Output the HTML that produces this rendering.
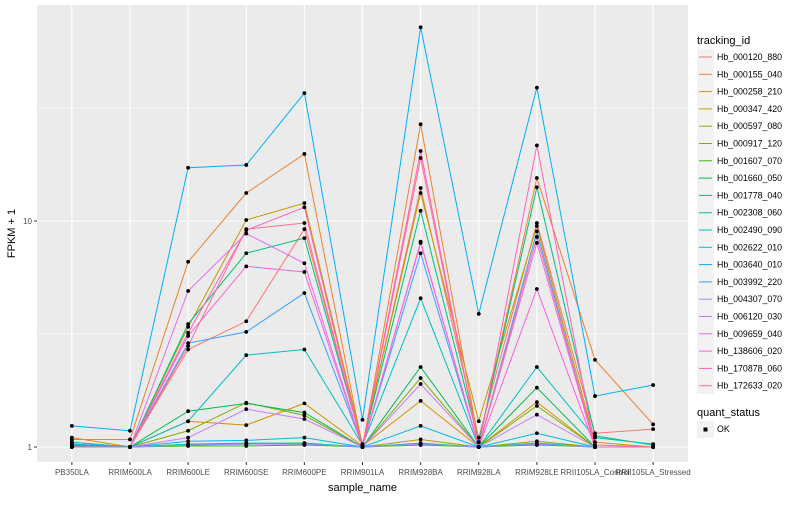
<!DOCTYPE html>
<html><head><meta charset="utf-8"><style>
body{margin:0;background:#fff;font-family:"Liberation Sans",sans-serif}
svg text{font-family:"Liberation Sans",sans-serif}
</style></head><body>
<svg id="c" width="800" height="500" xmlns="http://www.w3.org/2000/svg"></svg>
<script>
const categories=["PB350LA","RRIM600LA","RRIM600LE","RRIM600SE","RRIM600PE","RRIM901LA","RRIM928BA","RRIM928LA","RRIM928LE","RRII105LA_Control","RRII105LA_Stressed"];
const seriesNames=["Hb_000120_880","Hb_000155_040","Hb_000258_210","Hb_000347_420","Hb_000597_080","Hb_000917_120","Hb_001607_070","Hb_001660_050","Hb_001778_040","Hb_002308_060","Hb_002490_090","Hb_002622_010","Hb_003640_010","Hb_003992_220","Hb_004307_070","Hb_006120_030","Hb_009659_040","Hb_138606_020","Hb_170878_060","Hb_172633_020"];
const colors=["#F8766D","#EA8331","#D89000","#C09B00","#A3A500","#7CAE00","#39B600","#00BB4E","#00BF7D","#00C1A3","#00BFC4","#00BAE0","#00B0F6","#35A2FF","#9590FF","#C77CFF","#E76BF3","#FA62DB","#FF62BC","#FF6C91"];
const s000120=[1.02,1.0,2.7,3.6,9.2,1.02,14.0,1.1,9.8,1.15,1.2];
const s000155=[1.08,1.08,6.6,13.3,19.8,1.0,26.8,1.05,15.5,2.43,1.26];
const s000258=[1.1,1.0,1.3,1.25,1.56,1.01,1.6,1.0,1.58,1.0,1.0];
const s000347=[1.05,1.0,3.4,10.1,12.0,1.03,13.3,1.3,9.5,1.05,1.0];
const s000597=[1.02,1.0,1.02,1.03,1.04,1.0,1.08,1.0,1.06,1.0,1.0];
const s000917=[1.01,1.0,1.18,1.57,1.38,1.0,2.02,1.0,1.52,1.0,1.0];
const s001607=[1.0,1.0,1.01,1.01,1.02,1.0,1.02,1.0,1.02,1.0,1.0];
const s001660=[1.02,1.0,1.44,1.56,1.42,1.0,2.26,1.0,1.83,1.0,1.0];
const s001778=[1.03,1.0,3.5,7.2,8.4,1.02,11.1,1.05,14.1,1.12,1.02];
const s002308=[1.02,1.0,1.03,1.04,1.04,1.0,1.04,1.0,1.04,1.0,1.0];
const s002490=[1.05,1.0,1.3,2.55,2.7,1.02,4.55,1.0,2.26,1.1,1.03];
const s002622=[1.03,1.0,1.06,1.07,1.1,1.0,1.24,1.0,1.15,1.0,1.0];
const s003640=[1.24,1.18,17.2,17.7,36.8,1.32,72.0,3.88,38.9,1.68,1.88];
const s003992=[1.01,1.0,2.88,3.23,4.8,1.01,7.2,1.0,9.0,1.0,1.0];
const s004307=[1.0,1.0,1.02,1.03,1.03,1.0,1.03,1.0,1.03,1.0,1.0];
const s006120=[1.0,1.0,1.1,1.47,1.33,1.0,1.9,1.0,1.39,1.0,1.0];
const s009659=[1.0,1.0,4.9,8.8,6.5,1.0,8.1,1.0,8.0,1.0,1.0];
const s138606=[1.0,1.0,3.1,6.3,5.95,1.0,8.0,1.0,5.0,1.0,1.0];
const s170878=[1.0,1.0,3.2,9.1,11.5,1.0,20.4,1.0,21.6,1.0,1.0];
const s172633=[1.0,1.0,2.8,9.2,9.8,1.0,19.0,1.0,8.5,1.02,1.0];
const seriesValues=[s000120,s000155,s000258,s000347,s000597,s000917,s001607,s001660,s001778,s002308,s002490,s002622,s003640,s003992,s004307,s006120,s009659,s138606,s170878,s172633];
const yTicks=[1,10];
const yMinor=[Math.sqrt(10),Math.sqrt(1000)];

const NS="http://www.w3.org/2000/svg";
const svg=document.getElementById('c');
function mk(t,a,p){const e=document.createElementNS(NS,t);for(const k in a)e.setAttribute(k,a[k]);(p||svg).appendChild(e);return e;}
const L=37,R=688,T=5,B=462;
const step=(R-L)/(categories.length-1+1.2);
function xs(i){return L+step*(0.6+i);}
function ys(v){return 447-226*Math.log10(v);}

const panel=mk('rect',{x:L,y:T,width:R-L,height:B-T,fill:'#EBEBEB'});

yMinor.forEach(v=>{const g=mk('line',{x1:L,x2:R,y1:ys(v),y2:ys(v),stroke:'#fff','stroke-width':0.6});});
yTicks.forEach(v=>{const g=mk('line',{x1:L,x2:R,y1:ys(v),y2:ys(v),stroke:'#fff','stroke-width':1.1});
 const tk=mk('line',{x1:L-3,x2:L,y1:ys(v),y2:ys(v),stroke:'#333'});
 const t=mk('text',{x:L-5,y:ys(v)+3,'text-anchor':'end','font-size':8,fill:'#4D4D4D'});t.textContent=String(v);});
categories.forEach((c,i)=>{const g=mk('line',{x1:xs(i),x2:xs(i),y1:T,y2:B,stroke:'#fff','stroke-width':1.1});
 const tk=mk('line',{x1:xs(i),x2:xs(i),y1:B,y2:B+3,stroke:'#333'});
 const t=mk('text',{x:xs(i),y:B+13,'text-anchor':'middle','font-size':8,fill:'#4D4D4D'});t.textContent=c;});
seriesValues.forEach((vals,si)=>{const p=mk('polyline',{points:vals.map((v,i)=>xs(i)+','+ys(v)).join(' '),fill:'none',stroke:colors[si],'stroke-width':1});
 });
seriesValues.forEach((vals,si)=>{vals.forEach((v,i)=>{const c=mk('circle',{cx:xs(i),cy:ys(v),r:1.9,fill:'#000'});});});
const xt=mk('text',{x:(L+R)/2,y:491,'text-anchor':'middle','font-size':11,fill:'#000'});xt.textContent='sample_name';
const yt=mk('text',{x:15,y:(T+B)/2,'text-anchor':'middle','font-size':11,fill:'#000',transform:'rotate(-90 15 '+((T+B)/2)+')'});yt.textContent='FPKM + 1';
const lg=mk('g',{});
const lt=mk('text',{x:697,y:44,'font-size':11,fill:'#000'},lg);lt.textContent='tracking_id';
seriesNames.forEach((n,i)=>{const cy=57+i*17.3;const g=mk('g',{},lg);
 mk('rect',{x:697,y:cy-8.5,width:17,height:17,fill:'#F2F2F2'},g);
 mk('line',{x1:699,x2:712,y1:cy,y2:cy,stroke:colors[i],'stroke-width':1},g);
 const t=mk('text',{x:717,y:cy+3,'font-size':8.8,fill:'#000'},g);t.textContent=n;});
const qt=mk('text',{x:697,y:416,'font-size':11,fill:'#000'},lg);qt.textContent='quant_status';
const og=mk('g',{},lg);
mk('rect',{x:697,y:421,width:17,height:17,fill:'#F2F2F2'},og);
mk('rect',{x:703.5,y:427.5,width:4,height:4,fill:'#000'},og);
const ok=mk('text',{x:717,y:432,'font-size':8.8,fill:'#000'},og);ok.textContent='OK';
</script>
</body></html>
